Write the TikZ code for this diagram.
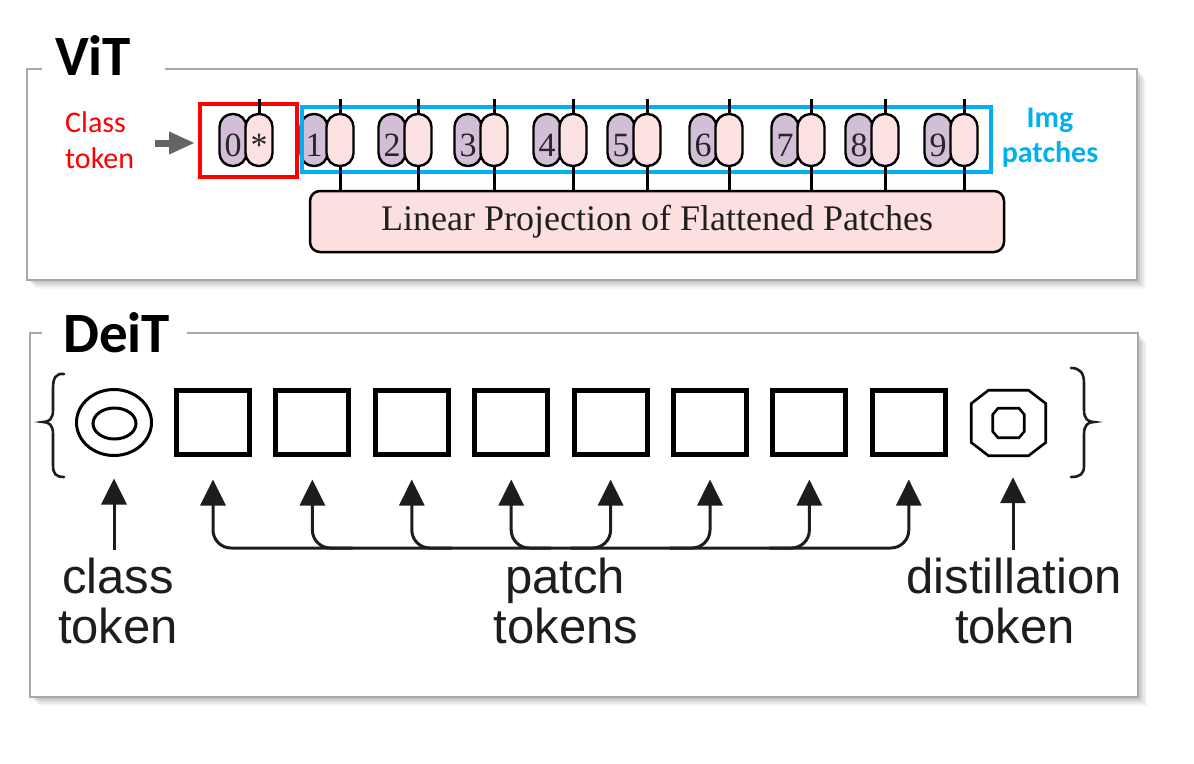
\documentclass[tikz,border=0pt]{standalone}
\usepackage{fontspec}
\setmainfont{Liberation Serif}
\newfontfamily\calib{Carlito}
\newfontfamily\arsans{Liberation Sans}
\usetikzlibrary{arrows.meta,shapes.geometric,calc}
\definecolor{framegray}{RGB}{168,168,168}
\definecolor{vpurple}{RGB}{210,190,214}
\definecolor{vpink}{RGB}{253,226,226}
\definecolor{lppink}{RGB}{252,224,224}
\definecolor{clsred}{RGB}{255,0,0}
\definecolor{imgcyan}{RGB}{0,176,240}
\definecolor{arrgray}{RGB}{100,100,100}
\definecolor{inkblack}{RGB}{30,28,30}
\begin{document}
\begin{tikzpicture}[x=1pt,y=-1pt,
  frame/.style={draw=framegray,line width=2pt},
  title/.style={font=\calib\bfseries\fontsize{57}{57}\selectfont,inner sep=0pt,anchor=base west},
  purpcap/.style={draw=black,fill=vpurple,line width=2.4pt,rounded corners=13pt,minimum width=27pt,minimum height=52pt,inner sep=0pt},
  pinkcap/.style={draw=black,fill=vpink,line width=2.4pt,rounded corners=13pt,minimum width=27pt,minimum height=52pt,inner sep=0pt},
  dig/.style={font=\fontsize{34}{34}\selectfont,inner sep=0pt,anchor=base,text=black!85},
  tick/.style={draw=black,line width=3pt},
  lpbox/.style={draw=black,fill=lppink,line width=2.5pt,rounded corners=10pt,minimum width=694pt,minimum height=61pt,inner sep=0pt,font=\fontsize{36}{36}\selectfont,text=black!88},
  redtxt/.style={font=\calib\fontsize{30}{30}\selectfont,text=clsred,inner sep=0pt,anchor=base west},
  cyantxt/.style={font=\calib\bfseries\fontsize{30}{30}\selectfont,text=imgcyan,inner sep=0pt,anchor=base},
  sq/.style={draw=black,line width=5pt,minimum width=73pt,minimum height=64pt,inner sep=0pt},
  ring/.style={draw=black,ellipse,line width=3pt,inner sep=0pt},
  oct/.style={draw=black,line width=2.6pt,line join=miter},
  brace/.style={draw=inkblack,line width=2.6pt,line cap=round},
  uparr/.style={draw=inkblack,line width=3pt,-{Triangle[width=25pt,length=26pt]}},
  lbl/.style={font=\arsans\fontsize{49}{49}\selectfont,text=inkblack,inner sep=0pt,anchor=base}
]
\useasboundingbox (0,0) rectangle (1194,763);
\fill[white] (0,0) rectangle (1194,763);

% ---------- panel shadows ----------
\foreach \k/\o in {1/0.10,3/0.08,5/0.06,7/0.05,9/0.035} {
  \fill[black,opacity=\o] (27+\k,69+\k) rectangle (1137+\k,280+\k);
  \fill[black,opacity=\o] (30+\k,333+\k) rectangle (1138+\k,697+\k);
}
\fill[white] (27,69) rectangle (1137,280);
\fill[white] (30,333) rectangle (1138,697);

% ---------- ViT panel ----------
\draw[frame] (42,69) -- (27,69) -- (27,280) -- (1137,280) -- (1137,69) -- (165,69);
\node[title] (vit) at (55,75) {ViT};

\node[lpbox] (lp) at (657,221.5) {Linear Projection of Flattened Patches};

\foreach \i/\x in {0/259,1/340,2/418,3/494,4/573,5/647,6/729,7/811,8/885,9/964} {
  \node[purpcap] (p\i) at (\x-26,140) {};
  \node[pinkcap] (q\i) at (\x,140) {};
}
\foreach \i in {0,...,9} {
  \node[dig] (d\i) at ($(p\i.center)+(0,16)$) {\i};
}
\node[dig] (ast) at ($(q0.center)+(0,16)$) {*};

\node[draw=clsred,line width=4pt,minimum width=97pt,minimum height=73pt,inner sep=0pt] (redbox) at (248.5,140.5) {};
\node[draw=imgcyan,line width=4pt,minimum width=689pt,minimum height=65pt,inner sep=0pt] (bluebox) at (646.5,139.5) {};

\foreach \i in {0,...,9} {
  \draw[tick] (q\i.north) -- ++(0,-14);
}
\foreach \i in {1,...,9} {
  \draw[tick] (q\i.south) -- (q\i.south |- lp.north);
}

\node[redtxt] (ct1) at (65,132) {Class};
\node[redtxt] (ct2) at (65,168) {token};
\coordinate (carr) at (155,143);
\draw[draw=arrgray,line width=7pt,-{Triangle[width=21pt,length=26pt]},shorten >=3pt] (carr) -- (carr -| redbox.west);

\node[cyantxt] (ip1) at (1050,127) {Img};
\node[cyantxt] (ip2) at (1050,162) {patches};

% ---------- DeiT panel ----------
\draw[frame] (42,333) -- (30,333) -- (30,697) -- (1138,697) -- (1138,333) -- (187,333);
\node[title] (deit) at (63,352) {DeiT};

% braces
\draw[brace] (64,374) .. controls (56,373) and (53,378) .. (53,388) -- (53,410)
  .. controls (53,419) and (49,422) .. (43,422)
  .. controls (49,422) and (53,425) .. (53,434) -- (53,465)
  .. controls (53,474) and (56,477) .. (64,477);
\draw[brace] (1071,368) .. controls (1080,368) and (1084,373) .. (1084,383) -- (1084,410)
  .. controls (1084,419) and (1088,422) .. (1094,422)
  .. controls (1088,422) and (1084,425) .. (1084,434) -- (1084,466)
  .. controls (1084,474) and (1080,477) .. (1071,477);

% class token rings
\node[ring,minimum width=75pt,minimum height=66pt] (cls) at (114,422.5) {};
\node[ring,minimum width=43pt,minimum height=31pt] (clsin) at (114.5,423.5) {};

% patch squares
\foreach \i in {1,...,8} {
  \node[sq] (s\i) at ({213+99.4*(\i-1)},422.5) {};
}

% distillation octagons
\node[minimum width=77pt,minimum height=68pt,inner sep=0pt] (dist) at (1008.5,423) {};
\draw[oct] ($(dist)+(-20,-32.75)$) -- ($(dist)+(20,-32.75)$) -- ($(dist)+(37.25,-19.5)$)
  -- ($(dist)+(37.25,19.5)$) -- ($(dist)+(20,32.75)$) -- ($(dist)+(-20,32.75)$)
  -- ($(dist)+(-37.25,19.5)$) -- ($(dist)+(-37.25,-19.5)$) -- cycle;
\draw[oct] ($(dist)+(-10.5,-14.75)$) -- ($(dist)+(10.5,-14.75)$) -- ($(dist)+(15.75,-8.5)$)
  -- ($(dist)+(15.75,8.5)$) -- ($(dist)+(10.5,14.75)$) -- ($(dist)+(-10.5,14.75)$)
  -- ($(dist)+(-15.75,8.5)$) -- ($(dist)+(-15.75,-8.5)$) -- cycle;

% arrows
\coordinate (clsarr) at (114,550);
\draw[uparr] (clsarr) -- ([yshift=-21.5pt]cls.south);

\coordinate (bus) at (0,548);
\draw[draw=inkblack,line width=3pt,{Triangle[width=25pt,length=26pt]}-{Triangle[width=25pt,length=26pt]},rounded corners=18pt]
  ([yshift=-22.5pt]s1.south) |- (bus -| s8) -- ([yshift=-22.5pt]s8.south);
\foreach \i in {2,3,4} {
  \draw[uparr,rounded corners=18pt] ($(bus -| s\i)+(40,0)$) -| ([yshift=-22.5pt]s\i.south);
}
\foreach \i in {5,6,7} {
  \draw[uparr,rounded corners=18pt] ($(bus -| s\i)+(-40,0)$) -| ([yshift=-22.5pt]s\i.south);
}

\coordinate (dtip) at ([yshift=-20pt]dist.south);
\coordinate (darr) at (1013,550);
\draw[uparr] (darr) -- (darr |- dtip);

% labels
\node[lbl] (l1) at (118,593) {class};
\node[lbl] (l2) at (118,643) {token};
\node[lbl] (l3) at (565,593) {patch};
\node[lbl] (l4) at (566,643) {tokens};
\node[lbl] (l5) at (1014,593) {distillation};
\node[lbl] (l6) at (1015,643) {token};
\end{tikzpicture}
\end{document}
